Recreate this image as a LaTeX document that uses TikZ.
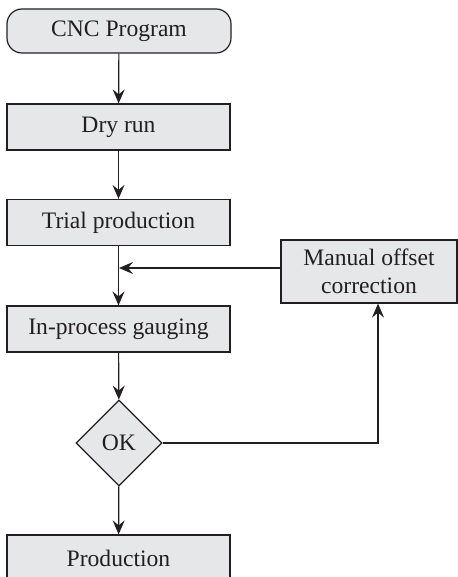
\documentclass[tikz,border=0pt]{standalone}
\usepackage{fontspec}
\setmainfont{Liberation Serif}
\definecolor{boxgray}{RGB}{230,231,232}
\definecolor{inkgray}{RGB}{35,31,32}
\usetikzlibrary{arrows.meta, positioning, shapes.geometric}

\begin{document}
\begin{tikzpicture}[x=0.5pt, y=-0.5pt,
  every node/.style={font=\fontsize{11.8}{14}\selectfont, text=inkgray},
  stepbox/.style={draw=inkgray, fill=boxgray, line width=0.6pt, minimum width=111.5pt, minimum height=23pt, inner sep=0pt},
  flow/.style={-{Stealth[length=7pt, width=6pt, inset=2.5pt]}, draw=inkgray, line width=0.6pt}]
  \useasboundingbox (0,0) rectangle (458,577);

  % Main column
  \node[stepbox, rounded corners=7.5pt, minimum width=112pt, minimum height=22pt] (cnc) at (119,31) {CNC Program};
  \node[stepbox] (dry) at (118.5,127) {Dry run};
  \node[stepbox] (trial) at (118.5,222.5) {Trial production};
  \node[stepbox] (gauge) at (118.5,329) {In-process gauging};
  \node[stepbox, shape=diamond, minimum width=43pt, minimum height=43pt] (ok) at (119,443) {OK};
  \node[stepbox] (prod) at (118.5,558) {Production};

  % Feedback loop
  \node[stepbox, minimum width=88pt, minimum height=31.5pt, align=center] (manual) at (369,271.5) {Manual offset\\correction};
  \coordinate (join) at (119,268);
  \coordinate (turn) at (378,443);

  \draw[flow] (cnc) -- (dry);
  \draw[flow] (dry) -- (trial);
  \draw[flow] (trial) -- (gauge);
  \draw[flow] (manual.west |- join) -- (join);
  \draw[flow] (gauge) -- (ok);
  \draw[flow] (ok) -- (prod);
  \draw[flow] (ok.east) -- (turn) -- (turn |- manual.south);
\end{tikzpicture}
\end{document}
